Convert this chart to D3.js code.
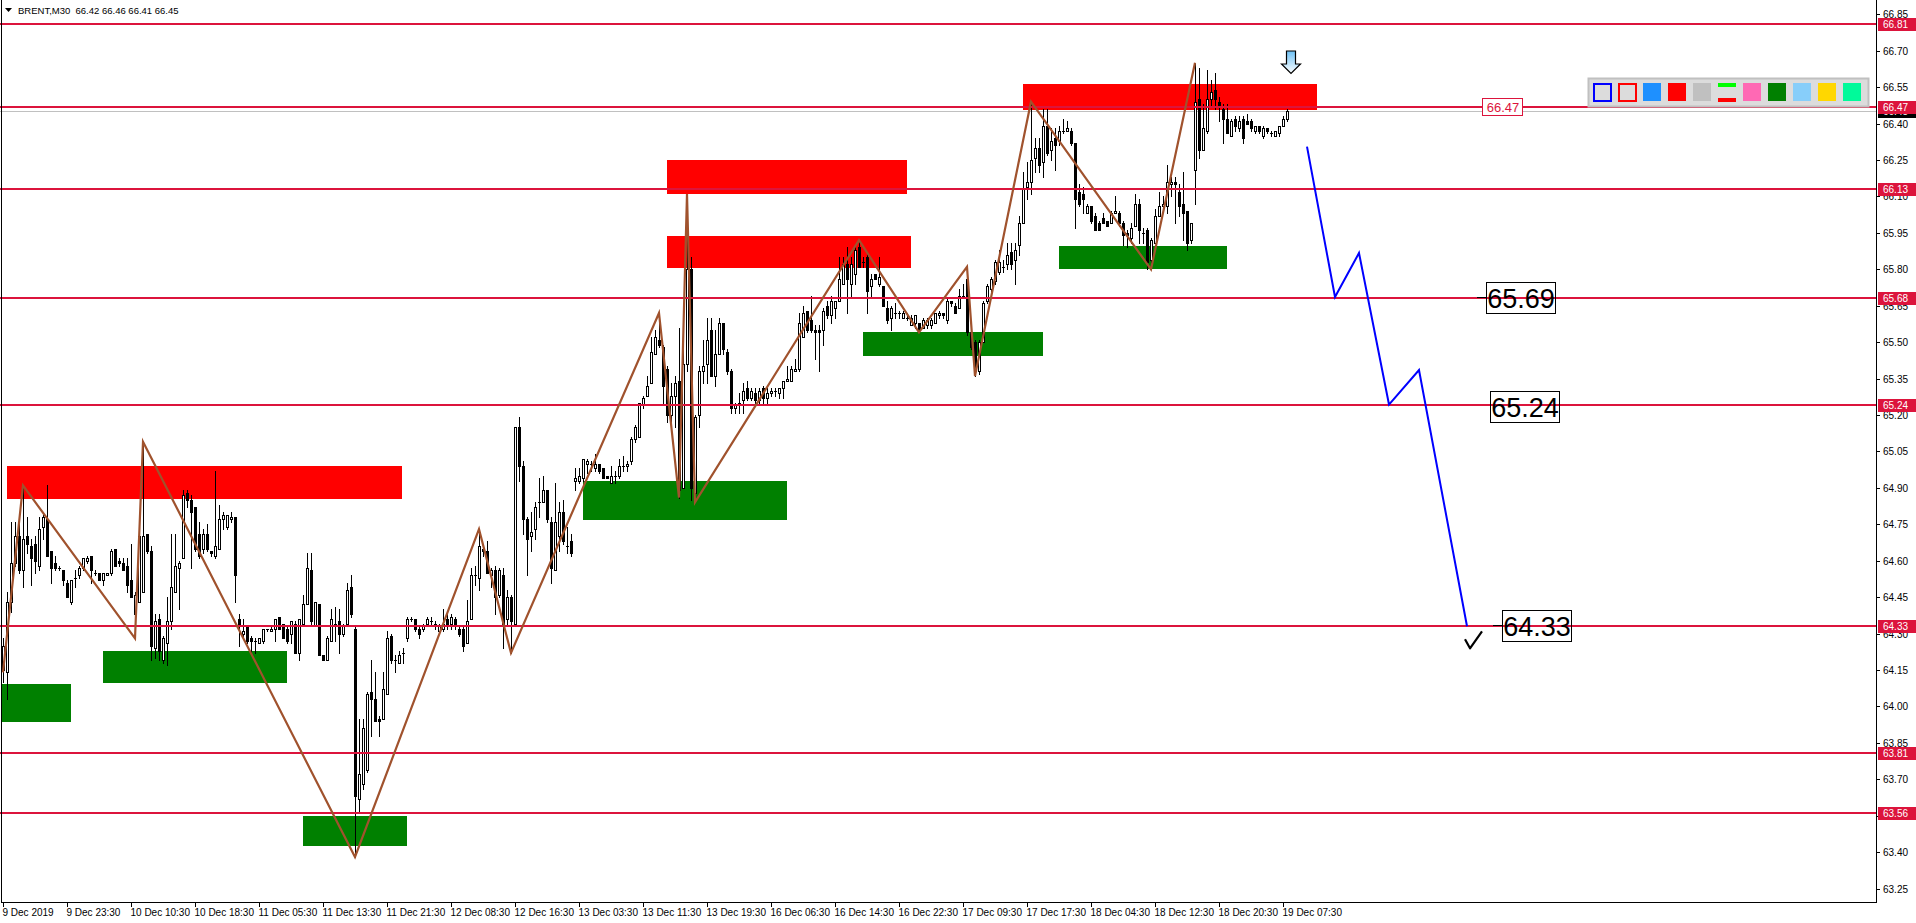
<!DOCTYPE html>
<html><head><meta charset="utf-8">
<script src="https://cdn.jsdelivr.net/npm/d3@7"></script>
<style>
html,body{margin:0;padding:0;background:#fff;overflow:hidden}
svg{display:block;font-family:"Liberation Sans",Arial,sans-serif}
</style></head><body><svg id="c" width="1916" height="923"></svg>
<script>
// ---------------- DATA ----------------
const symbol = "BRENT,M30";
const lastOHLC = [66.42, 66.46, 66.41, 66.45];
const bidPrice = 66.45;

const timeLabels = ["9 Dec 2019","9 Dec 23:30","10 Dec 10:30","10 Dec 18:30","11 Dec 05:30","11 Dec 13:30","11 Dec 21:30","12 Dec 08:30","12 Dec 16:30","13 Dec 03:30","13 Dec 11:30","13 Dec 19:30","16 Dec 06:30","16 Dec 14:30","16 Dec 22:30","17 Dec 09:30","17 Dec 17:30","18 Dec 04:30","18 Dec 12:30","18 Dec 20:30","19 Dec 07:30"];
const timeLabelBars = [0,16,32,48,64,80,96,112,128,144,160,176,192,208,224,240,256,272,288,304,320];

const priceTicks = [66.85,66.70,66.55,66.40,66.25,66.10,65.95,65.80,65.65,65.50,65.35,65.20,65.05,64.90,64.75,64.60,64.45,64.30,64.15,64.00,63.85,63.70,63.55,63.40,63.25];

const open = [64.15,64.14,64.43,64.59,64.70,64.56,64.70,64.66,64.67,64.58,64.74,64.77,64.64,64.59,64.57,64.56,64.51,64.43,64.53,64.54,
64.57,64.60,64.62,64.55,64.55,64.52,64.54,64.55,64.65,64.60,64.59,64.58,64.52,64.38,64.43,64.47,64.71,64.64,64.24,64.36,
64.19,64.26,64.35,64.47,64.57,64.61,64.88,64.85,64.82,64.71,64.65,64.71,64.64,64.62,64.65,64.77,64.74,64.77,64.78,64.36,
64.30,64.33,64.28,64.27,64.26,64.27,64.32,64.31,64.32,64.37,64.34,64.32,64.30,64.34,64.22,64.34,64.42,64.56,64.33,64.42,
64.21,64.19,64.27,64.34,64.35,64.30,64.34,64.49,64.32,63.62,63.68,63.74,64.06,64.03,63.95,63.95,64.05,64.29,64.19,64.18,
64.22,64.28,64.36,64.36,64.32,64.32,64.34,64.35,64.34,64.31,64.32,64.36,64.34,64.36,64.32,64.32,64.26,64.36,64.54,64.53,
64.65,64.64,64.54,64.56,64.46,64.54,64.36,64.45,64.34,65.15,64.99,64.77,64.70,64.73,64.84,64.84,64.89,64.76,64.56,64.70,
64.80,64.66,64.68,64.93,64.93,64.94,65.00,65.00,64.98,65.00,64.98,64.95,64.92,64.95,64.95,64.99,64.99,65.01,65.10,65.11,
65.24,65.28,65.33,65.45,65.51,65.48,65.39,65.20,65.28,65.34,64.90,65.41,65.80,64.88,65.20,65.38,65.41,65.55,65.36,65.45,
65.58,65.46,65.38,65.23,65.24,65.26,65.31,65.27,65.29,65.26,65.31,65.27,65.29,65.30,65.29,65.31,65.34,65.34,65.38,65.39,
65.52,65.63,65.59,65.55,65.55,65.55,65.65,65.61,65.64,65.67,65.74,65.82,65.74,65.78,65.89,65.83,65.85,65.73,65.78,65.74,
65.73,65.64,65.60,65.62,65.62,65.60,65.60,65.57,65.58,65.58,65.56,65.57,65.57,65.58,65.61,65.62,65.59,65.67,65.65,65.64,
65.69,65.76,65.54,65.50,65.38,65.50,65.67,65.72,65.75,65.79,65.81,65.82,65.87,65.84,65.90,65.99,66.14,66.16,66.26,66.30,
66.24,66.39,66.29,66.34,66.33,66.37,66.37,66.37,66.32,66.12,66.11,66.03,66.06,66.02,65.99,66.01,66.00,65.99,66.03,66.03,
65.99,65.95,65.93,65.98,66.07,65.95,65.96,65.84,65.91,66.02,66.06,66.06,66.15,66.16,66.12,66.07,66.04,65.92,66.21,66.50,
66.29,66.37,66.50,66.54,66.49,66.46,66.42,66.35,66.42,66.38,66.42,66.41,66.41,66.37,66.39,66.35,66.38,66.36,66.35,66.36,
66.39,66.42];
const high = [64.28,64.47,64.76,64.76,64.77,64.91,64.78,64.69,64.70,64.78,64.79,64.91,64.64,64.62,64.58,64.56,64.52,64.52,64.56,64.58,
64.61,64.62,64.62,64.56,64.55,64.55,64.55,64.65,64.65,64.61,64.61,64.61,64.67,64.47,64.78,65.09,64.71,64.66,64.38,64.38,
64.29,64.45,64.71,64.71,64.60,64.89,64.89,64.87,64.82,64.76,64.73,64.75,64.64,64.97,64.83,64.80,64.79,64.80,64.78,64.38,
64.36,64.33,64.29,64.28,64.28,64.32,64.32,64.33,64.36,64.37,64.34,64.33,64.35,64.35,64.36,64.46,64.63,64.63,64.43,64.42,
64.21,64.29,64.40,64.41,64.40,64.34,64.51,64.54,64.33,63.95,63.95,64.06,64.19,64.14,63.96,64.14,64.31,64.30,64.21,64.23,
64.24,64.37,64.37,64.36,64.33,64.34,64.37,64.37,64.35,64.34,64.40,64.38,64.38,64.37,64.33,64.33,64.44,64.57,64.58,64.73,
64.66,64.68,64.57,64.58,64.57,64.57,64.48,64.46,65.15,65.19,65.01,64.78,64.80,64.84,64.94,64.95,64.89,64.78,64.92,64.84,
64.85,64.74,64.71,64.98,64.98,65.02,65.02,65.01,65.04,65.00,64.98,64.95,64.99,64.97,65.02,65.03,65.01,65.11,65.16,65.25,
65.28,65.36,65.52,65.55,65.62,65.49,65.40,65.33,65.36,65.56,65.53,66.11,65.85,65.20,65.40,65.51,65.60,65.60,65.55,65.60,
65.58,65.47,65.39,65.25,65.29,65.33,65.34,65.31,65.31,65.31,65.32,65.31,65.31,65.31,65.31,65.34,65.40,65.40,65.43,65.62,
65.65,65.63,65.69,65.57,65.57,65.64,65.67,65.69,65.67,65.85,65.85,65.89,65.85,65.89,65.92,65.85,65.87,65.78,65.78,65.85,
65.73,65.67,65.65,65.66,65.63,65.63,65.62,65.61,65.61,65.58,65.60,65.60,65.60,65.62,65.63,65.62,65.68,65.67,65.66,65.72,
65.74,65.81,65.55,65.51,65.51,65.67,65.74,65.77,65.84,65.88,65.84,65.91,65.91,65.91,66.02,66.20,66.24,66.49,66.34,66.34,
66.46,66.46,66.38,66.38,66.39,66.42,66.41,66.38,66.32,66.15,66.14,66.07,66.06,66.03,66.00,66.03,66.00,66.04,66.10,66.04,
66.00,65.96,65.99,66.11,66.09,65.97,65.97,65.93,66.05,66.12,66.10,66.23,66.18,66.18,66.15,66.20,66.04,65.99,66.65,66.63,
66.48,66.62,66.58,66.61,66.51,66.48,66.48,66.42,66.43,66.43,66.43,66.44,66.42,66.39,66.39,66.39,66.38,66.37,66.37,66.39,
66.43,66.46];
const low = [64.10,64.03,64.39,64.58,64.55,64.49,64.63,64.50,64.55,64.56,64.69,64.62,64.51,64.56,64.56,64.50,64.45,64.42,64.49,64.53,
64.56,64.59,64.51,64.54,64.52,64.50,64.54,64.54,64.58,64.58,64.56,64.47,64.45,64.28,64.43,64.47,64.63,64.19,64.20,64.19,
64.18,64.17,64.32,64.47,64.40,64.61,64.82,64.57,64.64,64.61,64.63,64.64,64.62,64.61,64.65,64.73,64.73,64.76,64.43,64.25,
64.28,64.26,64.22,64.22,64.26,64.26,64.31,64.31,64.27,64.32,64.28,64.26,64.26,64.22,64.19,64.34,64.42,64.34,64.33,64.21,
64.19,64.19,64.27,64.27,64.22,64.29,64.34,64.37,63.38,63.56,63.66,63.73,63.88,63.94,63.88,63.95,64.05,64.18,64.14,64.18,
64.18,64.27,64.35,64.31,64.28,64.31,64.33,64.33,64.32,64.31,64.31,64.32,64.32,64.32,64.29,64.23,64.26,64.36,64.50,64.48,
64.62,64.55,64.49,64.38,64.45,64.24,64.34,64.22,64.33,64.93,64.71,64.54,64.64,64.69,64.78,64.84,64.76,64.51,64.56,64.64,
64.67,64.63,64.62,64.89,64.92,64.93,64.96,64.97,64.97,64.96,64.94,64.94,64.92,64.92,64.94,64.97,64.97,65.00,65.09,65.11,
65.23,65.28,65.33,65.45,65.48,65.25,65.17,65.15,65.15,64.86,64.92,65.38,64.85,64.84,65.15,65.33,65.33,65.36,65.32,65.45,
65.45,65.37,65.21,65.21,65.21,65.21,65.26,65.26,65.24,65.25,65.25,65.25,65.28,65.28,65.27,65.27,65.34,65.34,65.38,65.38,
65.52,65.54,65.54,65.43,65.38,65.49,65.60,65.58,65.60,65.67,65.74,65.62,65.69,65.74,65.81,65.81,65.62,65.69,65.76,65.73,
65.65,65.58,65.55,65.60,65.60,65.60,65.59,65.57,65.56,65.54,65.56,65.56,65.56,65.58,65.60,65.60,65.58,65.65,65.62,65.64,
65.69,65.53,65.47,65.36,65.37,65.50,65.66,65.71,65.74,65.78,65.79,65.80,65.80,65.74,65.86,65.99,66.09,66.11,66.20,66.20,
66.18,66.27,66.25,66.21,66.31,66.36,66.37,66.31,65.97,66.06,66.03,66.03,65.99,65.96,65.96,65.99,65.98,65.99,66.03,65.98,
65.90,65.89,65.91,65.98,65.91,65.91,65.80,65.80,65.91,66.02,66.05,66.03,66.10,65.99,66.02,65.92,65.88,65.91,66.07,66.26,
66.29,66.36,66.47,66.46,66.41,66.32,66.36,66.35,66.37,66.37,66.32,66.40,66.37,66.36,66.36,66.34,66.36,66.35,66.35,66.35,
66.39,66.41];
const close = [64.25,64.43,64.59,64.70,64.56,64.69,64.67,64.61,64.60,64.73,64.78,64.62,64.57,64.57,64.57,64.52,64.45,64.52,64.53,64.57,
64.61,64.61,64.56,64.55,64.52,64.55,64.55,64.64,64.58,64.59,64.56,64.50,64.45,64.46,64.70,64.70,64.64,64.25,64.35,64.23,
64.28,64.35,64.49,64.58,64.59,64.87,64.85,64.80,64.65,64.62,64.71,64.65,64.63,64.66,64.77,64.79,64.79,64.78,64.54,64.33,
64.31,64.27,64.27,64.27,64.28,64.32,64.32,64.32,64.36,64.32,64.28,64.27,64.35,64.22,64.36,64.42,64.57,64.35,64.43,64.21,
64.19,64.28,64.36,64.34,64.30,64.33,64.48,64.38,63.63,63.72,63.91,64.05,64.03,63.94,63.94,64.07,64.28,64.19,64.19,64.21,
64.22,64.36,64.36,64.32,64.30,64.33,64.36,64.35,64.34,64.33,64.34,64.33,64.37,64.33,64.30,64.25,64.35,64.54,64.54,64.66,
64.64,64.55,64.56,64.45,64.56,64.33,64.45,64.35,65.15,64.99,64.77,64.69,64.72,64.82,64.84,64.89,64.77,64.57,64.76,64.80,
64.68,64.66,64.63,64.94,64.95,65.02,65.01,65.00,65.00,64.97,64.94,64.94,64.95,64.95,64.99,64.99,65.00,65.10,65.15,65.25,
65.27,65.32,65.46,65.52,65.49,65.32,65.20,65.28,65.33,64.89,65.41,65.80,64.90,65.19,65.38,65.40,65.51,65.36,65.45,65.58,
65.47,65.38,65.23,65.24,65.25,65.30,65.27,65.30,65.26,65.30,65.27,65.29,65.30,65.30,65.31,65.34,65.35,65.39,65.39,65.58,
65.62,65.55,65.55,65.54,65.54,65.63,65.61,65.67,65.67,65.76,65.82,65.76,65.82,65.88,65.81,65.83,65.71,65.76,65.76,65.77,
65.65,65.59,65.64,65.62,65.62,65.62,65.60,65.60,65.61,65.55,65.59,65.59,65.59,65.62,65.62,65.61,65.67,65.66,65.62,65.69,
65.69,65.54,65.48,65.38,65.50,65.66,65.73,65.76,65.83,65.83,65.81,65.86,65.82,65.88,65.99,66.13,66.16,66.25,66.30,66.23,
66.39,66.28,66.33,66.31,66.37,66.37,66.38,66.32,66.09,66.07,66.09,66.06,66.00,65.96,65.96,65.99,65.98,66.03,66.04,65.99,
65.94,65.94,65.97,66.07,65.96,65.95,65.83,65.92,66.02,66.06,66.07,66.16,66.16,66.15,66.06,66.03,65.91,65.99,66.49,66.29,
66.38,66.50,66.53,66.50,66.47,66.42,66.36,66.41,66.39,66.41,66.34,66.40,66.38,66.39,66.37,66.38,66.37,66.36,66.37,66.39,
66.42,66.45];

// horizontal levels
const levels = [66.81, 66.47, 66.13, 65.68, 65.24, 64.33, 63.81, 63.56];

// supply / demand zones: [startBar, endBar, topPrice, bottomPrice]
const zoneType   = ["sell","sell","sell","sell","buy","buy","buy","buy","buy","buy"];
const zoneStart  = [1.1, 166.1, 166.1, 255.1, -0.5, 25.1, 75.0, 145.1, 215.1, 264.0];
const zoneEnd    = [99.75, 225.9, 226.9, 328.5, 16.9, 70.9, 100.9, 196.0, 259.9, 305.9];
const zoneTop    = [64.99, 66.25, 65.937, 66.563, 64.092, 64.228, 63.547, 64.928, 65.542, 65.896];
const zoneBottom = [64.854, 66.109, 65.807, 66.456, 63.936, 64.098, 63.427, 64.769, 65.444, 65.803];

// zigzag swing points
const zigBar   = [0, 5, 33, 35, 88, 119, 127, 164, 169, 171, 173, 214, 229, 241, 243, 257, 287, 298];
const zigPrice = [64.14, 64.91, 64.28, 65.09, 63.38, 64.73, 64.22, 65.62, 64.86, 66.11, 64.84, 65.92, 65.54, 65.81, 65.36, 66.49, 65.80, 66.65];

// projected path
const projBar   = [326, 333, 339, 346.5, 354, 366];
const projPrice = [66.305, 65.686, 65.867, 65.243, 65.385, 64.33];

// target labels: text, anchor bar (left of box), price (centre), anchor tick shown
const targetText  = ["65.69", "65.24", "64.33"];
const targetBar   = [370.75, 371.75, 374.75];
const targetPrice = [65.68, 65.232, 64.33];
const targetTick  = [true, false, true];

// level tag inside the chart
const tagText = "66.47", tagBar = 369.75, tagPrice = 66.47;
// arrow marker
const arrowBar = 322, arrowPrice = 66.70;

const paletteColors = ["outline:#0000FF","outline:#FF0000","#1E90FF","#FF0000","#C0C0C0","lines","#FF69B4","#008000","#87CEFA","#FFD700","#00FA9A"];

// ---------------- DRAW ----------------
const W = 1916, H = 923, plotR = 1876, plotB = 902;
const svg = d3.select("#c");
const x = d3.scaleLinear().domain([0, 468]).range([3, 3 + 468 * 4]);
const y = d3.scaleLinear().domain([63.1947, 66.9088]).range([902, 0]);
const crimson = "#DC143C";

const defs = svg.append("defs");
const grad = defs.append("linearGradient").attr("id","arrowFill").attr("x1",0).attr("y1",0).attr("x2",0).attr("y2",1);
grad.append("stop").attr("offset","0%").attr("stop-color","#6EC1F5");
grad.append("stop").attr("offset","100%").attr("stop-color","#FFFFFF");
defs.append("clipPath").attr("id","clp").append("rect").attr("x",0).attr("y",0).attr("width",plotR).attr("height",plotB);

svg.append("rect").attr("width", W).attr("height", H).attr("fill", "#fff");
const g = svg.append("g").attr("clip-path","url(#clp)");

// zones
g.selectAll("rect.zone").data(zoneType).join("rect")
  .attr("x", (d,i) => Math.round(x(zoneStart[i])))
  .attr("y", (d,i) => Math.round(y(zoneTop[i])))
  .attr("width", (d,i) => Math.round(x(zoneEnd[i])) - Math.round(x(zoneStart[i])))
  .attr("height", (d,i) => Math.round(y(zoneBottom[i])) - Math.round(y(zoneTop[i])))
  .attr("fill", d => d === "sell" ? "#FF0000" : "#008000");

// bid line
g.append("line").attr("x1",0).attr("x2",plotR)
  .attr("y1", Math.round(y(bidPrice))+0.5).attr("y2", Math.round(y(bidPrice))+0.5)
  .attr("stroke","#C0C0C0").attr("stroke-width",1);

// candles
const cg = g.append("g").attr("shape-rendering","crispEdges");
close.forEach((c, i) => {
  const o = open[i], h = high[i], l = low[i];
  const cx = Math.round(x(i));
  const yh = Math.round(y(h)), yl = Math.round(y(l));
  const top = Math.round(y(Math.max(o,c))), bot = Math.round(y(Math.min(o,c)));
  cg.append("line").attr("x1",cx+0.5).attr("x2",cx+0.5).attr("y1",yh).attr("y2",yl+1).attr("stroke","#000").attr("stroke-width",1);
  if (bot - top < 1) {
    cg.append("rect").attr("x",cx-1).attr("y",top).attr("width",3).attr("height",1).attr("fill","#000");
  } else if (c >= o) {
    cg.append("rect").attr("x",cx-0.5).attr("y",top+0.5).attr("width",2).attr("height",bot-top)
      .attr("fill","#fff").attr("stroke","#000").attr("stroke-width",1);
  } else {
    cg.append("rect").attr("x",cx-1).attr("y",top).attr("width",3).attr("height",bot-top+1).attr("fill","#000");
  }
});

// levels
g.selectAll("line.lvl").data(levels).join("line")
  .attr("x1",0).attr("x2",plotR)
  .attr("y1", d => Math.round(y(d))).attr("y2", d => Math.round(y(d)))
  .attr("stroke", crimson).attr("stroke-width", 2);

// zigzag
const zz = d3.line().x(d => x(d[0])).y(d => y(d[1]));
g.append("path").datum(zigBar.map((b,i)=>[b, zigPrice[i]])).attr("d", zz)
  .attr("fill","none").attr("stroke","#A0522D").attr("stroke-width",2.2).attr("stroke-linejoin","miter");

// projection
g.append("path").datum(projBar.map((b,i)=>[b, projPrice[i]])).attr("d", zz)
  .attr("fill","none").attr("stroke","#0000FF").attr("stroke-width",2);

// target labels
targetText.forEach((t, i) => {
  const bx = Math.round(x(targetBar[i])), cy = Math.round(y(targetPrice[i]));
  if (targetTick[i]) {
    g.append("line").attr("x1", bx - 9).attr("x2", bx).attr("y1", cy - 0.5).attr("y2", cy - 0.5).attr("stroke","#000").attr("stroke-width",1);
  }
  g.append("rect").attr("x", bx + 0.5).attr("y", cy - 15.5).attr("width", 69).attr("height", 31)
    .attr("fill","none").attr("stroke","#000").attr("stroke-width",1);
  g.append("text").attr("x", bx + 35).attr("y", cy + 10).attr("text-anchor","middle")
    .attr("font-size", 27).attr("fill","#000").text(t);
});

// check mark at final target
const lastB = projBar[projBar.length-1], lastP = projPrice[projPrice.length-1];
g.append("path")
  .attr("d", `M${x(lastB)-2},${y(lastP)+13} l5,9 l12,-17`)
  .attr("fill","none").attr("stroke","#000").attr("stroke-width",2.2).attr("stroke-linejoin","round");

// down arrow above current price
const ax = Math.round(x(arrowBar)), ay = Math.round(y(arrowPrice));
g.append("path")
  .attr("d", `M${ax-4.5},${ay} h9 v13 h5 l-9.5,9.5 l-9.5,-9.5 h5 z`)
  .attr("fill","url(#arrowFill)").attr("stroke","#000").attr("stroke-width",1.2);

// "66.47" level tag in chart
const tagX = x(tagBar), tagY = y(tagPrice);
g.append("rect").attr("x", Math.round(tagX)+0.5).attr("y", Math.round(tagY)-8.5).attr("width", 40).attr("height", 17)
  .attr("fill","#fff").attr("stroke", crimson).attr("stroke-width",1);
g.append("text").attr("x", tagX + 21).attr("y", tagY + 5).attr("text-anchor","middle")
  .attr("font-size", 13).attr("fill", crimson).text(tagText);

// palette toolbar
const pal = g.append("g");
pal.append("rect").attr("x",1588.5).attr("y",78.5).attr("width",280).attr("height",28)
  .attr("fill","#DCDCDC").attr("stroke","#C0C0C0").attr("stroke-width",2);
paletteColors.forEach((c, i) => {
  const px = 1593 + i * 25, py = 83;
  if (c.startsWith("outline:")) {
    pal.append("rect").attr("x", px+1).attr("y", py+1).attr("width",17).attr("height",17)
      .attr("fill","#DCDCDC").attr("stroke", c.slice(8)).attr("stroke-width",2);
  } else if (c === "lines") {
    pal.append("rect").attr("x", px).attr("y", py).attr("width",18).attr("height",4).attr("fill","#00FF00");
    pal.append("rect").attr("x", px).attr("y", py+15).attr("width",18).attr("height",4).attr("fill","#FF0000");
  } else {
    pal.append("rect").attr("x", px).attr("y", py).attr("width",18).attr("height",18).attr("fill", c);
  }
});

// frame
svg.append("line").attr("x1",1.5).attr("x2",1.5).attr("y1",0).attr("y2",plotB).attr("stroke","#000");
svg.append("line").attr("x1",plotR+0.5).attr("x2",plotR+0.5).attr("y1",0).attr("y2",plotB+1).attr("stroke","#000");
svg.append("line").attr("x1",1).attr("x2",plotR+1).attr("y1",plotB+0.5).attr("y2",plotB+0.5).attr("stroke","#000");

// price axis
const yAxisG = svg.append("g").attr("font-size",10);
priceTicks.forEach(p => {
  const ty = Math.round(y(p)) + 0.5;
  yAxisG.append("line").attr("x1",plotR).attr("x2",plotR+4).attr("y1",ty).attr("y2",ty).attr("stroke","#000");
  yAxisG.append("text").attr("x",plotR+7).attr("y",ty+3.5).attr("fill","#000").text(p.toFixed(2));
});
// bid tag
{
  const ty = Math.round(y(bidPrice));
  yAxisG.append("rect").attr("x",plotR+2).attr("y",ty-6).attr("width",38).attr("height",13).attr("fill","#000");
  yAxisG.append("text").attr("x",plotR+7).attr("y",ty+4).attr("fill","#fff").text(bidPrice.toFixed(2));
}
levels.forEach(p => {
  const ty = Math.round(y(p));
  yAxisG.append("rect").attr("x",plotR+2).attr("y",ty-6).attr("width",38).attr("height",13).attr("fill",crimson);
  yAxisG.append("text").attr("x",plotR+7).attr("y",ty+4).attr("fill","#fff").text(p.toFixed(2));
});

// time axis
const xAxisG = svg.append("g").attr("font-size",10);
timeLabels.forEach((t, i) => {
  const tx = Math.round(x(timeLabelBars[i])) + 0.5;
  xAxisG.append("line").attr("x1",tx).attr("x2",tx).attr("y1",plotB).attr("y2",plotB+5).attr("stroke","#000");
  xAxisG.append("text").attr("x",tx-1).attr("y",plotB+14).attr("fill","#000").text(t);
});

// header
svg.append("path").attr("d","M5,8 h7 l-3.5,4 z").attr("fill","#000");
svg.append("text").attr("x",18).attr("y",13.5).attr("font-size",9.5).attr("fill","#000")
  .attr("xml:space","preserve")
  .text(symbol + "  " + lastOHLC.map(v => v.toFixed(2)).join(" "));
</script>
</body></html>
